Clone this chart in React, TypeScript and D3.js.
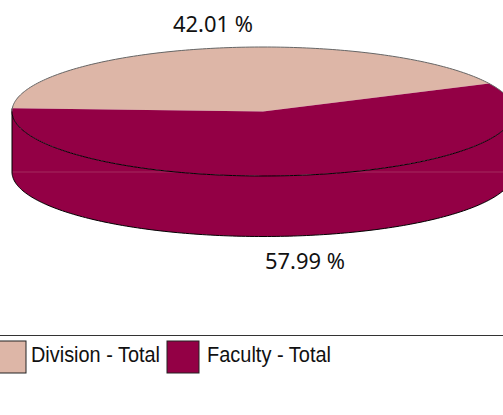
import React from "react";
import * as d3 from "d3";

const categories = ["Division - Total", "Faculty - Total"];
const values = [42.01, 57.99];
const labels = ["42.01 %", "57.99 %"];
const colors = ["#DDB6A7", "#930045"];

const WIDTH = 503;
const HEIGHT = 415;
const cx = 263;
const cy = 111.5;
const rx = 251;
const ry = 64.5;
const depth = 60.5;
const rad = Math.PI / 180;

const slices = d3.pie<number>().sort(null).startAngle(-87 * rad).endAngle(273 * rad)(values);
const sliceArc = d3.arc<any>().innerRadius(0).outerRadius(1);
const px = (a: number) => cx + rx * Math.sin(a);
const py = (a: number, dy = 0) => cy + dy - ry * Math.cos(a);

const angles = d3.range(90, 270.5, 1).map((d) => d * rad);
const rimFront = d3.line<number>().x((a) => px(a)).y((a) => py(a))(angles) as string;
const rimBottom = d3.line<number>().x((a) => px(a)).y((a) => py(a, depth))(angles) as string;
const wall = d3
  .area<number>()
  .x((a) => px(a))
  .y0((a) => py(a))
  .y1((a) => py(a, depth))(angles) as string;
const backAngles = d3.range(-90, 90.5, 1).map((d) => d * rad);
const rimBack = d3.line<number>().x((a) => px(a)).y((a) => py(a))(backAngles) as string;

const legendX = d3.scaleOrdinal<string, number>().domain(categories).range([-6, 167]);
const legendTextX = d3.scaleOrdinal<string, number>().domain(categories).range([31, 207]);
const legendTextW = d3.scaleOrdinal<string, number>().domain(categories).range([129, 124]);

export default function App() {
  return (
    <svg
      width={WIDTH}
      height={HEIGHT}
      style={{ position: "fixed", left: 0, top: 0, display: "block", background: "#fff" }}
    >
      <path d={wall} fill={colors[1]} />
      <line x1={px(-90 * rad)} x2={WIDTH} y1={cy + depth} y2={cy + depth} stroke="#A32A5E" strokeWidth={1} />
      <path d={rimBottom} fill="none" stroke="#000" strokeWidth={1} />
      <line x1={px(-90 * rad)} x2={px(-90 * rad)} y1={cy - 3} y2={cy + depth} stroke="#000" strokeWidth={1} />
      <g transform={`translate(${cx},${cy}) scale(${rx},${ry})`}>
        {slices.map((s, i) => (
          <path key={categories[i]} d={sliceArc(s) as string} fill={colors[i]} />
        ))}
      </g>
      <path d={rimBack} fill="none" stroke="#666" strokeWidth={1} />
      <path d={rimFront} fill="none" stroke="#000" strokeWidth={1} />
      <text x={213} y={32} textAnchor="middle" fontFamily="'Noto Sans'" fontSize={22} fill="#111" textLength={80} lengthAdjust="spacingAndGlyphs">
        {labels[0]}
      </text>
      <text x={305} y={269} textAnchor="middle" fontFamily="'Noto Sans'" fontSize={22} fill="#111" textLength={80} lengthAdjust="spacingAndGlyphs">
        {labels[1]}
      </text>
      <line x1={0} x2={WIDTH} y1={335.5} y2={335.5} stroke="#333" strokeWidth={1} />
      {categories.map((c, i) => (
        <g key={c}>
          <rect x={legendX(c)} y={341} width={32} height={32} fill={colors[i]} stroke="#222" strokeWidth={1} />
          <text
            x={legendTextX(c)}
            y={362}
            fontFamily="'Liberation Sans'"
            fontSize={22}
            fill="#111"
            textLength={legendTextW(c)}
            lengthAdjust="spacingAndGlyphs"
          >
            {c}
          </text>
        </g>
      ))}
    </svg>
  );
}
